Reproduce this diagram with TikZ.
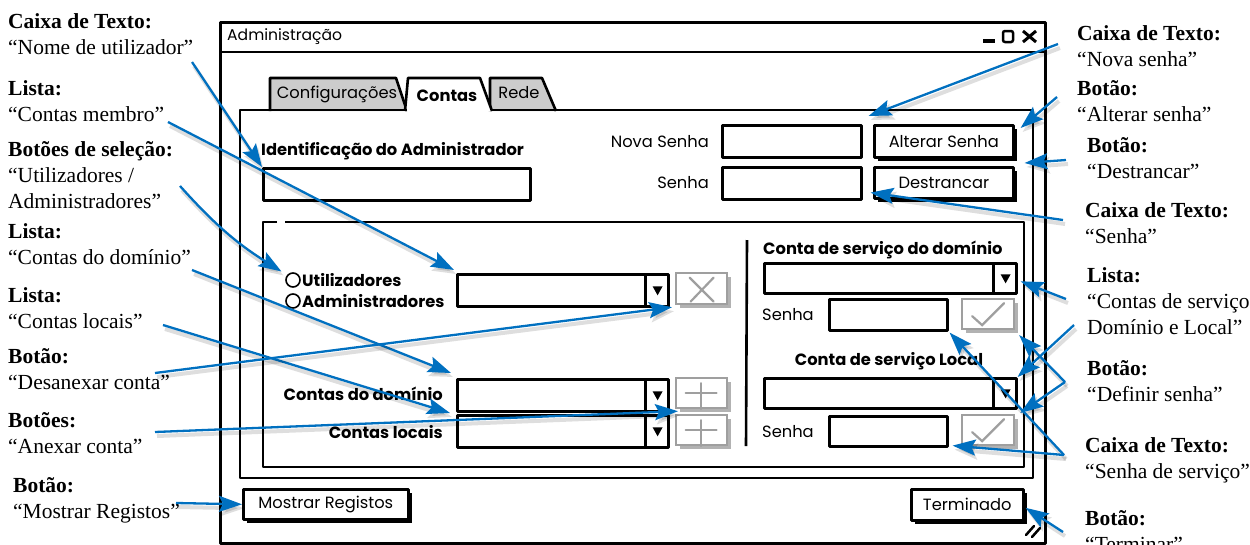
\documentclass[tikz,border=0pt]{standalone}
\usepackage{fontspec}
\setmainfont{Liberation Serif}
\newfontfamily\uifont{Poppins}
\usetikzlibrary{arrows.meta,calc,shadows}
\definecolor{calloutblue}{RGB}{0,112,192}

% combo box: separator and drop-down triangle
\newcommand\combomark[1]{%
  \draw[ink] ($(#1.north east)+(-24,0)$) -- ($(#1.south east)+(-24,0)$);
  \fill ($(#1.east)+(-17,-4)$) -- ($(#1.east)+(-7,-4)$) -- ($(#1.east)+(-12,5)$) -- cycle;}
% disabled button glyphs
\newcommand\plusglyph[1]{%
  \draw[offink] ($(#1.center)+(-16,0)$) -- ($(#1.center)+(15,0)$)
                ($(#1.center)+(-1,-10)$) -- ($(#1.center)+(-1,16)$);}
\newcommand\tickglyph[1]{%
  \draw[offink] ($(#1.center)+(-16,2)$) -- ($(#1.center)+(-6,11)$) -- ($(#1.center)+(16,-11)$);}

\begin{document}
\begin{tikzpicture}[x=1pt,y=-1pt,
  ann/.style={font=\fontsize{21.5}{26}\selectfont, align=left, anchor=north west, inner sep=0pt},
  ui/.style={font=\uifont\fontsize{16.3}{19}\selectfont, inner sep=0pt},
  uib/.style={font=\uifont\bfseries\fontsize{16.3}{19}\selectfont, inner sep=0pt},
  ink/.style={draw=black, line width=2.6pt, line join=round},
  offink/.style={draw=gray!75, line width=2.2pt, line cap=round},
  field/.style={ink, fill=white, anchor=north west, inner sep=0pt},
  pushbtn/.style={field, font=\uifont\fontsize{16.3}{19}\selectfont,
    drop shadow={shadow xshift=3.5pt, shadow yshift=-4pt, opacity=1, fill=black}},
  offbtn/.style={draw=gray!75, line width=2.2pt, fill=white, anchor=north west, inner sep=0pt,
    drop shadow={shadow xshift=4pt, shadow yshift=-4pt, opacity=1, fill=gray!60}},
  callout/.style={draw=calloutblue, line width=2.3pt,
    -{Stealth[length=23pt,width=16pt,inset=4pt]},
    preaction={draw=black, draw opacity=.13, fill opacity=.13, line width=4pt,
      transform canvas={shift={(2pt,-4pt)}}}},
]
\useasboundingbox (0,0) rectangle (1250,544);

% ---------- window ----------
\node[ink, line width=2.8pt, fill=white, anchor=north west, inner sep=0pt,
  minimum width=825pt, minimum height=521pt] (win) at (219,21) {};
\draw[ink] (219,52) -- (1044,52);
\node[ui, font=\uifont\fontsize{15.6}{18}\selectfont, anchor=west] (title) at (227,37) {Administração};
\draw[line width=3.5pt] (983,41) -- (995,41);
\draw[line width=2.5pt, rounded corners=2pt] (1003,31) rectangle (1013,42);
\draw[line width=3pt] (1023,31) -- (1036,42) (1023,42) -- (1036,31);

% ---------- tabs ----------
\draw[ink, fill=gray!40] (270,111) -- (270,78) -- (396,78) -- (407,111);
\draw[ink, fill=gray!40] (490,111) -- (490,78) -- (542,78) -- (556,111);
\draw[ink, fill=white] (405,111) -- (408,78) -- (480,78) -- (492,111);
\node[ui] (tabCfg) at (337,94) {Configurações};
\node[uib] (tabCnt) at (447,96) {Contas};
\node[ui] (tabRede) at (519,93) {Rede};

% tab panel, open under the active tab
\draw[ink] (407,110) -- (240,110) -- (240,478) -- (1033,478) -- (1033,110) -- (492,110);
% group box with an empty caption
\draw[ink] (277,222) -- (263,222) -- (263,467) -- (1024,467) -- (1024,222) -- (285,222);
\draw[ink] (747,240) -- (746,446);

% ---------- upper fields ----------
\node[uib, anchor=west] (lblId) at (261,151) {Identificação do Administrador};
\node[field, minimum width=267pt, minimum height=32pt] (tbAdmin) at (262,167) {};
\node[ui, anchor=east] (lblNova) at (709,142) {Nova Senha};
\node[field, minimum width=139pt, minimum height=32pt] (tbNova) at (721,124) {};
\node[pushbtn, minimum width=139pt, minimum height=32pt] (btnAlt) at (873,124) {Alterar Senha};
\node[ui, anchor=east] (lblSenha) at (709,183) {Senha};
\node[field, minimum width=139pt, minimum height=32pt] (tbSenha) at (721,166) {};
\node[pushbtn, minimum width=139pt, minimum height=31pt] (btnDes) at (873,166) {Destrancar};

% ---------- member accounts ----------
\node[draw, line width=1.6pt, circle, minimum size=14pt, inner sep=0pt] (rU) at (293,280) {};
\node[draw, line width=1.6pt, circle, minimum size=14pt, inner sep=0pt] (rA) at (293,301) {};
\node[uib, anchor=west] (lblU) at (302,280) {Utilizadores};
\node[uib, anchor=west] (lblA) at (302,301) {Administradores};
\node[field, minimum width=211pt, minimum height=32pt] (cbM) at (456,273) {};
\combomark{cbM}
\node[offbtn, minimum width=51pt, minimum height=31pt] (btnX) at (675,272) {};
\draw[offink] ($(btnX.center)+(-12,-11)$) -- ($(btnX.center)+(12,13)$)
              ($(btnX.center)+(12,-11)$) -- ($(btnX.center)+(-11,13)$);

\node[uib, anchor=east] (lblDom) at (443,394) {Contas do domínio};
\node[field, minimum width=211pt, minimum height=32pt] (cbDom) at (456,378) {};
\combomark{cbDom}
\node[offbtn, minimum width=51pt, minimum height=30pt] (btnP1) at (675,377) {};
\plusglyph{btnP1}
\node[uib, anchor=east] (lblLoc) at (443,432) {Contas locais};
\node[field, minimum width=211pt, minimum height=32pt] (cbLoc) at (456,414) {};
\combomark{cbLoc}
\node[offbtn, minimum width=51pt, minimum height=30pt] (btnP2) at (675,414) {};
\plusglyph{btnP2}

% ---------- service accounts ----------
\node[uib, anchor=west] (lblSD) at (763,250) {Conta de serviço do domínio};
\node[field, minimum width=252pt, minimum height=30pt] (cbSD) at (763,262) {};
\combomark{cbSD}
\node[ui, anchor=west] (lblS1) at (762,315) {Senha};
\node[field, minimum width=118pt, minimum height=31pt] (tbSD) at (828,298) {};
\node[offbtn, minimum width=52pt, minimum height=30pt] (chk1) at (961,298) {};
\tickglyph{chk1}
\node[uib] (lblSL) at (889,361) {Conta de serviço Local};
\node[field, minimum width=252pt, minimum height=30pt] (cbSL) at (763,377) {};
\combomark{cbSL}
\node[ui, anchor=west] (lblS2) at (762,432) {Senha};
\node[field, minimum width=118pt, minimum height=30pt] (tbSL) at (828,415) {};
\node[offbtn, minimum width=52pt, minimum height=30pt] (chk2) at (961,414) {};
\tickglyph{chk2}

% ---------- bottom buttons ----------
\node[pushbtn, minimum width=165pt, minimum height=30pt] (btnLog) at (242,488) {Mostrar Registos};
\node[pushbtn, minimum width=112pt, minimum height=31pt] (btnTerm) at (910,488) {Terminado};
\draw[line width=2.5pt, line cap=round] (1026,535) -- (1034,526) (1032,537) -- (1040,528);

% ---------- annotations ----------
\node[ann] (a1) at (8,13) {\textbf{Caixa de Texto:}\\“Nome de utilizador”};
\node[ann] (a2) at (8,80) {\textbf{Lista:}\\“Contas membro”};
\node[ann] (a3) at (8,141) {\textbf{Botões de seleção:}\\“Utilizadores /\\Administradores”};
\node[ann] (a4) at (8,223) {\textbf{Lista:}\\“Contas do domínio”};
\node[ann] (a5) at (8,287) {\textbf{Lista:}\\“Contas locais”};
\node[ann] (a6) at (8,348) {\textbf{Botão:}\\“Desanexar conta”};
\node[ann] (a7) at (8,412) {\textbf{Botões:}\\“Anexar conta”};
\node[ann] (a8) at (13,477) {\textbf{Botão:}\\“Mostrar Registos”};
\node[ann] (a9) at (1077,25) {\textbf{Caixa de Texto:}\\“Nova senha”};
\node[ann] (a10) at (1077,80) {\textbf{Botão:}\\“Alterar senha”};
\node[ann] (a11) at (1087,137) {\textbf{Botão:}\\“Destrancar”};
\node[ann] (a12) at (1085,202) {\textbf{Caixa de Texto:}\\“Senha”};
\node[ann] (a13) at (1087,267) {\textbf{Lista:}\\“Contas de serviço\\Domínio e Local”};
\node[ann] (a14) at (1087,360) {\textbf{Botão:}\\“Definir senha”};
\node[ann] (a15) at (1085,437) {\textbf{Caixa de Texto:}\\“Senha de serviço”};
\node[ann] (a16) at (1085,510) {\textbf{Botão:}\\“Terminar”};

% callout origins next to the annotation texts
\coordinate (s1) at (192,62);
\coordinate (s2) at (168,122);
\coordinate (s3) at (180,186);
\coordinate (s4) at (192,270);
\coordinate (s5) at (163,325);
\coordinate (s6) at (155,373);
\coordinate (s7) at (155,432);
\coordinate (s8) at (176,503);
\coordinate (s9) at (1058,44);
\coordinate (s10) at (1057,97);
\coordinate (s11) at (1066,160);
\coordinate (s12) at (1063,220);
\coordinate (s13) at (1066,299);
\coordinate (s13b) at (1074,325);
\coordinate (s14) at (1065,382);
\coordinate (s15) at (1064,455);
\coordinate (s16) at (1063,532);

% ---------- callouts ----------
\draw[callout] (s1) -- (tbAdmin.north west);
\draw[callout] (s2) -- ($(cbM.north west)+(-2,-3)$);
\draw[callout] (s3) to[bend right=8] ($(rU.north west)+(-6,-3)$);
\draw[callout] (s4) -- ($(cbDom.north west)+(-5,-5)$);
\draw[callout] (s5) -- ($(cbLoc.north west)+(-6,-1)$);
\draw[callout] (s6) -- ($(btnX.south west)+(-3,2)$);
\draw[callout] (s7) -- ($(btnP1.south west)+(3,2)$);
\draw[callout] (s8) -- (btnLog.west);
\draw[callout] (s9) -- ($(tbNova.north east)+(6,-8)$);
\draw[callout] (s10) -- ($(btnAlt.north east)+(6,4)$);
\draw[callout] (s11) -- ($(btnDes.north east)+(10,-3)$);
\draw[callout] (s12) -- ($(tbSenha.south east)+(8,-8)$);
\draw[callout] (s13) -- ($(cbSD.east)+(3,3)$);
\draw[callout] (s13b) -- (cbSL.north east);
\draw[callout] (s14) -- ($(chk1.south east)+(4,5)$);
\draw[callout] (s14) -- ($(chk2.north east)+(5,-1)$);
\draw[callout] (s15) -- ($(tbSD.south east)+(1,1)$);
\draw[callout] (s15) -- ($(tbSL.south east)+(4,-2)$);
\draw[callout] (s16) -- ($(btnTerm.east)+(1,3)$);
\end{tikzpicture}
\end{document}
